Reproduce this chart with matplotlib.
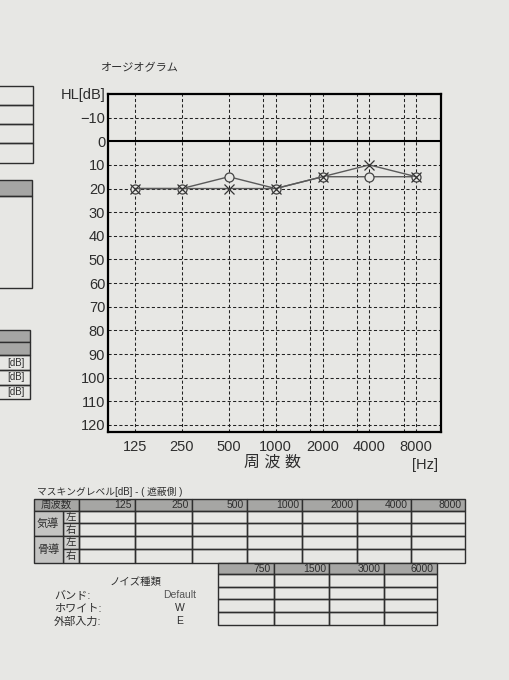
import matplotlib.pyplot as plt
from matplotlib.patches import Rectangle
import numpy as np

plt.rcParams['font.family'] = ['Liberation Sans', 'Noto Sans CJK JP', 'DejaVu Sans']

# audiogram data (hearing level in dB per frequency)
freqs = [125, 250, 500, 1000, 2000, 4000, 8000]
half_freqs = [750, 1500, 3000, 6000]
right_ac = [20, 20, 15, 20, 15, 15, 15]   # O
left_ac = [20, 20, 20, 20, 15, 10, 15]    # X
db_ticks = list(range(-10, 121, 10))

mask_rows = [('気導', '左'), ('気導', '右'), ('骨導', '左'), ('骨導', '右')]
noise_labels = ['バンド:', 'ホワイト:', '外部入力:']
noise_values = ['Default', 'W', 'E']

BG = '#e7e7e4'
INK = '#2e2e2e'
GREY = '#a6a6a4'

fig = plt.figure(figsize=(5.1, 6.8), dpi=100)
fig.patch.set_facecolor(BG)

# page overlay in pixel coordinates for the printed form parts
page = fig.add_axes([0, 0, 1, 1])
page.set_xlim(0, 510)
page.set_ylim(680, 0)
page.axis('off')


def box(x0, y0, x1, y1, fc='none', lw=1.0):
    page.add_patch(Rectangle((x0, y0), x1 - x0, y1 - y0, fc=fc, ec=INK, lw=lw))


# left cut-off blocks
for y0, y1 in [(86, 105), (105, 124), (124, 143), (143, 163)]:
    box(-2, y0, 33, y1)
box(-2, 180, 32, 196, fc=GREY)
box(-2, 196, 32, 288)
box(-2, 330, 30, 342, fc=GREY)
box(-2, 342, 30, 355, fc=GREY)
for y0, y1 in [(355, 370), (370, 385), (385, 399)]:
    box(-2, y0, 30, y1)
    page.text(16, (y0 + y1) / 2, '[dB]', fontsize=7, ha='center', va='center', color=INK)

# masking level table
page.text(37, 492, 'マスキングレベル[dB] - ( 遮蔽側 )', fontsize=7, va='center', color=INK)
col_x = [79, 135, 192, 247, 302, 357, 411, 465]
row_y = [499, 511, 523, 536, 549, 563]
box(34, row_y[0], 79, row_y[1], fc=GREY)
page.text(56, (row_y[0] + row_y[1]) / 2, '周波数', fontsize=7.5, ha='center', va='center', color=INK)
for i, f in enumerate(freqs):
    box(col_x[i], row_y[0], col_x[i + 1], row_y[1], fc=GREY)
    page.text(col_x[i + 1] - 3, (row_y[0] + row_y[1]) / 2, str(f), fontsize=7.5,
              ha='right', va='center', color=INK)
for r, (group, side) in enumerate(mask_rows):
    y0, y1 = row_y[r + 1], row_y[r + 2]
    box(63, y0, 79, y1, fc='#d2d2d0')
    page.text(71, (y0 + y1) / 2, side, fontsize=7.5, ha='center', va='center', color=INK)
    for i in range(len(freqs)):
        box(col_x[i], y0, col_x[i + 1], y1)
for g, group in enumerate(['気導', '骨導']):
    y0, y1 = row_y[1 + 2 * g], row_y[3 + 2 * g]
    box(34, y0, 63, y1, fc='#c4c4c2')
    page.text(48, (y0 + y1) / 2, group, fontsize=8, ha='center', va='center', color=INK)

# half-octave masking table
col2_x = [218, 274, 329, 384, 437]
row2_y = [563, 574, 587, 599, 612, 625]
for i, f in enumerate(half_freqs):
    box(col2_x[i], row2_y[0], col2_x[i + 1], row2_y[1], fc=GREY)
    page.text(col2_x[i + 1] - 3, (row2_y[0] + row2_y[1]) / 2, str(f), fontsize=7.5,
              ha='right', va='center', color=INK)
    for r in range(1, len(row2_y) - 1):
        box(col2_x[i], row2_y[r], col2_x[i + 1], row2_y[r + 1])

# noise type block
page.text(110, 582, 'ノイズ種類', fontsize=7.5, va='center', color=INK)
for k, (lab, val) in enumerate(zip(noise_labels, noise_values)):
    y = 596 + k * 13
    page.text(54, y, lab, fontsize=8, va='center', color=INK)
    page.text(180, y - 1, val, fontsize=7.5, ha='center', va='center',
              color='#555555' if k == 0 else INK)

# audiogram
ax = fig.add_axes([108 / 510, 1 - 432 / 680, 333 / 510, 338 / 680])
ax.set_facecolor(BG)
x_pos = np.arange(len(freqs))
half_pos = np.arange(2, 6) + 0.74

ax.set_xlim(-0.58, 6.53)
ax.set_ylim(123, -20)

dash = (0, (3, 2.2))
for x in list(x_pos) + list(half_pos):
    ax.axvline(x, color='#222222', lw=0.75, ls=dash, zorder=1)
for y in db_ticks:
    if y == 0:
        ax.axhline(y, color='black', lw=1.5, zorder=2)
    else:
        ax.axhline(y, color='#222222', lw=0.75, ls=dash, zorder=1)

ax.plot(x_pos, right_ac, color='#5a5a5a', lw=1.0, marker='o', ms=6.5,
        mfc=BG, mec='#444444', mew=0.9, zorder=3)
ax.plot(x_pos, left_ac, color='#5a5a5a', lw=1.0, marker='x', ms=6.5,
        mec='#333333', mew=0.9, zorder=4)

ax.set_yticks([-20] + db_ticks)
ax.set_yticklabels(['HL[dB]'] + [str(v).replace('-', '\u2212') for v in db_ticks])
ax.set_xticks(x_pos)
ax.set_xticklabels([str(f) for f in freqs])
ax.tick_params(length=0, labelsize=10.5, labelcolor=INK)
ax.tick_params(axis='y', pad=2)
ax.tick_params(axis='x', pad=6)
for s in ax.spines.values():
    s.set_linewidth(1.6)
    s.set_color('black')

fig.text(100 / 510, 1 - 68 / 680, 'オージオグラム', fontsize=8, va='center', color=INK)
fig.text(273 / 510, 1 - 462 / 680, '周 波 数', fontsize=11.5, ha='center', va='center', color=INK)
fig.text(425 / 510, 1 - 465 / 680, '[Hz]', fontsize=10.5, ha='center', va='center', color=INK)

fig.savefig('out.png', dpi=100, facecolor=BG)
